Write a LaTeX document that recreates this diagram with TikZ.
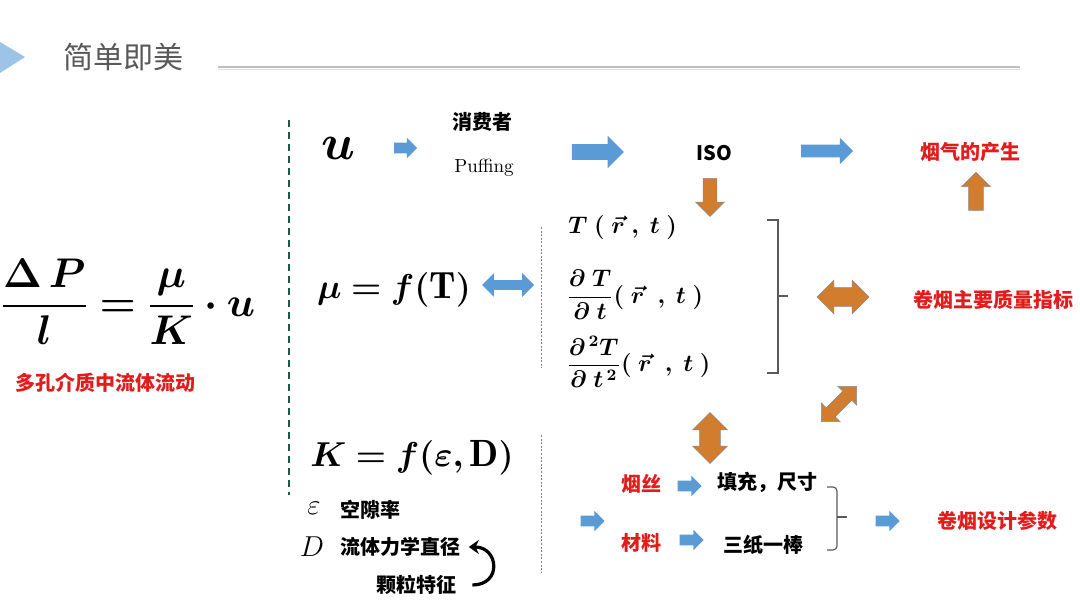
\documentclass[tikz,border=0pt]{standalone}
\usepackage{fontspec}
\usepackage{amsmath,bm}
\usetikzlibrary{positioning, shapes.arrows, arrows.meta}
\newfontfamily\cjk{Noto Sans CJK SC}
\definecolor{arrblue}{HTML}{5B9BD5}
\definecolor{arrorange}{HTML}{D27D2D}
\definecolor{arredge}{HTML}{8A8A8A}
\definecolor{hotred}{HTML}{E31B1B}
\definecolor{titlegray}{HTML}{595959}
\definecolor{rulegray}{HTML}{BFBFBF}
\definecolor{triblue}{HTML}{9DC3E6}
\definecolor{divgreen}{HTML}{1E5B46}

\begin{document}
\begin{tikzpicture}[x=0.5pt, y=-0.5pt,
    cn/.style={font=\cjk\bfseries\fontsize{10}{12}\selectfont, inner sep=1pt},
    hot/.style={cn, text=hotred},
    bigmath/.style={font=\fontsize{19}{22}\selectfont, inner sep=0pt},
    tmath/.style={font=\fontsize{12}{14}\selectfont, inner sep=0pt, anchor=west},
    blu/.style n args={3}{single arrow, fill=arrblue, inner sep=0pt,
      text height=#2, text depth=0pt, minimum height=#1, single arrow head extend=#3},
    org/.style n args={3}{single arrow, fill=arrorange, draw=arredge, line width=0.3pt,
      inner sep=0pt, text height=#2, text depth=0pt, minimum height=#1, single arrow head extend=#3},
    blud/.style n args={3}{double arrow, fill=arrblue, inner sep=0pt,
      text height=#2, text depth=0pt, minimum height=#1, double arrow head extend=#3},
    orgd/.style n args={3}{double arrow, fill=arrorange, draw=arredge, line width=0.3pt,
      inner sep=0pt, text height=#2, text depth=0pt, minimum height=#1, double arrow head extend=#3},
    brk/.style={titlegray, line width=0.6pt},
    curv/.style={black, line width=1.6pt, -{Stealth[length=5pt, width=7pt]}}]
  \useasboundingbox (0,0) rectangle (1080,608);

  % title bar
  \fill[triblue] (0,42) -- (25,57) -- (0,73) -- cycle;
  \node[font=\cjk\fontsize{15}{18}\selectfont, text=titlegray] (title) at (123,57) {简单即美};
  \draw[rulegray, line width=0.9pt] (218,67) -- (1020,67);
  \draw[rulegray!50, line width=0.6pt] (218,69.5) -- (1020,69.5);

  % left formula
  \node[bigmath, font=\fontsize{20}{24}\selectfont] (darcy) at (128,302)
    {$\genfrac{}{}{1.1pt}{0}{\bm{\Delta\,P}}{\bm{l}}\bm{=}\genfrac{}{}{1.1pt}{0}{\bm{\mu}}{\bm{K}}\bm{\cdot u}$};
  \node[hot] (porous) at (105,383) {多孔介质中流体流动};

  % dividers
  \draw[divgreen, line width=1pt, dash pattern=on 3.5pt off 2.5pt] (289,120) -- (289,495);
  \draw[gray, line width=0.4pt, dash pattern=on 1pt off 0.8pt] (541,227) -- (541,368);
  \draw[gray, line width=0.4pt, dash pattern=on 1pt off 0.8pt] (541,435) -- (541,572);

  % row u
  \node[bigmath, font=\fontsize{27}{30}\selectfont] (u) at (338,148) {$\bm{u}$};
  \node[blu={11.5pt}{5pt}{2.5pt}] (a1) at (403,148) {};
  \node[cn] (consumer) at (482,122) {消费者};
  \node[font=\fontsize{9.5}{11}\selectfont] (puff) at (484,168) {Puffing};
  \node[blu={26pt}{7.5pt}{4.25pt}] (a2) at (594,152) {};
  \node[cn] (iso) at (714,153) {ISO};
  \node[blu={26pt}{6pt}{3.5pt}] (a3) at (824,151) {};
  \node[hot] (smoke) at (970,152) {烟气的产生};
  \node[org={19pt}{6.5pt}{3.75pt}, rotate=-90] (a4) at (710,194) {};
  \node[org={19pt}{7pt}{3.5pt}, rotate=90] (a5) at (976,195) {};

  % row mu
  \node[bigmath] (visc) at (394,290) {$\bm{\mu = f(}\mathbf{T}\bm{)}$};
  \node[blud={26pt}{4.5pt}{3.5pt}] (d1) at (508,285) {};
  \node[tmath] (t0) at (568,228) {$\bm{T\;(\;\vec{r}\;,\;t\;)}$};
  \node[tmath] (t1) at (566,295) {$\dfrac{\bm{\partial\;T}}{\bm{\partial\;t}}\bm{(\;\vec{r}\;\;,\;t\;)}$};
  \node[tmath] (t2) at (566,362) {$\dfrac{\bm{\partial^{\,2}T}}{\bm{\partial\;t^{\,2}}}\bm{(\;\vec{r}\;\;,\;t\;)}$};
  \draw[brk] (767,220) -- (778,220) -- (778,373) -- (767,373);
  \draw[brk] (778,296) -- (788,296);
  \node[orgd={26pt}{9pt}{3.75pt}] (d2) at (843,297) {};
  \node[hot] (quality) at (993,300) {卷烟主要质量指标};
  \node[orgd={25pt}{6pt}{3.5pt}, rotate=45] (d3) at (839,404) {};
  \node[orgd={25.5pt}{10pt}{3.5pt}, rotate=90] (d4) at (710,438) {};

  % row K
  \node[bigmath] (perm) at (412,458) {$\bm{K = f(\varepsilon,}\mathbf{D}\bm{)}$};
  \node[font=\fontsize{14}{16}\selectfont, inner sep=0pt] (eps) at (314,508) {$\varepsilon$};
  \node[font=\fontsize{14}{16}\selectfont, inner sep=0pt] (dd) at (312,547) {$D$};
  \node[cn, anchor=west] (void) at (338,510) {空隙率};
  \node[cn, anchor=west] (diam) at (338,547) {流体力学直径};
  \node[cn] (grain) at (416,585) {颗粒特征};
  \draw[curv] ([xshift=7pt]grain.east) to[out=0, in=0, looseness=2] ([xshift=3pt]diam.east);

  \node[blu={12pt}{5pt}{2.5pt}] (a6) at (590,521) {};
  \node[hot] (cut) at (641,484) {烟丝};
  \node[hot] (mat) at (641,543) {材料};
  \node[blu={12pt}{5pt}{2.5pt}] (a7) at (687,486) {};
  \node[blu={12pt}{5pt}{2.5pt}] (a8) at (689,540) {};
  \node[cn] (fill) at (767,482) {填充，尺寸};
  \node[cn] (paper) at (763,545) {三纸一棒};
  \draw[brk, rounded corners=2pt] (827,487) -| (837,517) |- (827,550);
  \draw[brk] (837,517) -- (847,517);
  \node[blu={12pt}{5pt}{2.5pt}] (a9) at (885,521) {};
  \node[hot] (design) at (997,521) {卷烟设计参数};
\end{tikzpicture}
\end{document}
